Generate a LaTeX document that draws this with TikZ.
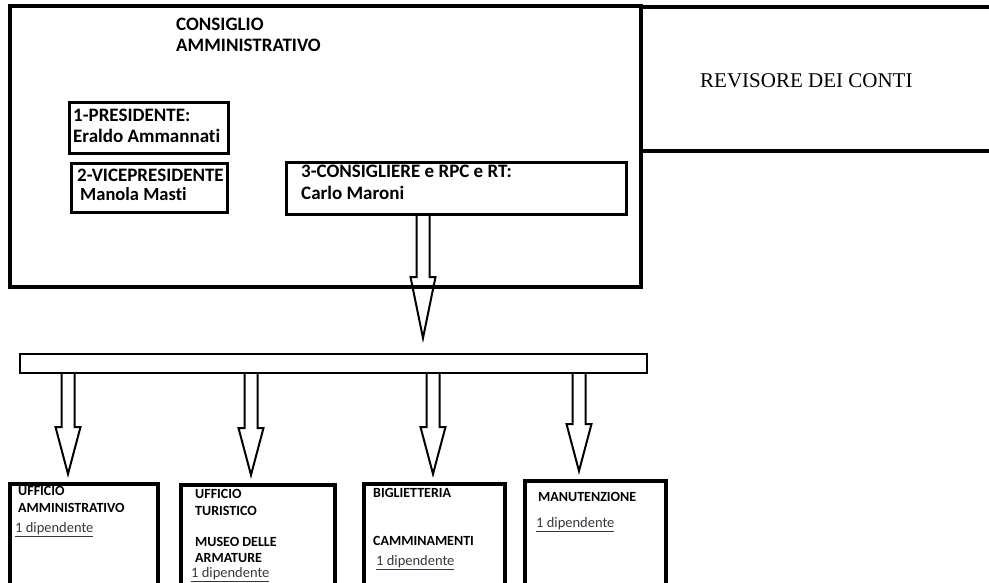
\documentclass[tikz,border=0pt]{standalone}
\usepackage{fontspec}
\setmainfont{Carlito}[Ligatures=NoCommon]
\newfontfamily\serifface{Liberation Serif}
\usepackage{tikz}
\usetikzlibrary{calc, positioning}
\definecolor{staffgray}{RGB}{55,55,65}
\tikzstyle{board} = [rectangle, line width=3.5pt, draw=black, anchor=north west, inner sep=0pt, outer sep=0pt]
\tikzstyle{member} = [rectangle, line width=3pt, draw=black, anchor=north west, inner sep=0pt, outer sep=0pt]
\tikzstyle{office} = [rectangle, line width=3.5pt, draw=black, anchor=north west, inner sep=0pt, outer sep=0pt]
\tikzstyle{busbar} = [rectangle, line width=2.5pt, draw=black, anchor=north west, inner sep=0pt, outer sep=0pt]
\tikzstyle{headline} = [anchor=base west, inner sep=0pt, font=\fontsize{19}{22}\selectfont\bfseries]
\tikzstyle{officeline} = [anchor=base west, inner sep=0pt, font=\fontsize{14}{16}\selectfont\bfseries]
\tikzstyle{staffline} = [anchor=base west, inner sep=0pt, text=staffgray, font=\fontsize{14.5}{16}\selectfont]
\tikzstyle{arrowline} = [line width=2pt, draw=black]
% hollow block arrow: start, end, gap before end, head length
\newcommand{\hollowarrow}[4]{%
	\draw [arrowline] let \p1=#1, \p2=#2 in
		(\x1-6.5pt,\y1) -- (\x1-6.5pt,\y2+#3+#4) -- (\x1-12.5pt,\y2+#3+#4)
		-- (\x1,\y2+#3) -- (\x1+12.5pt,\y2+#3+#4) -- (\x1+6.5pt,\y2+#3+#4)
		-- (\x1+6.5pt,\y1);}
\begin{document}
\begin{tikzpicture}[x=1pt, y=-1pt]
		\useasboundingbox (0,0) rectangle (989,582);

		\node (Board) [board, minimum width=631pt, minimum height=281pt] at (10,6) {};
		\node (Revisor) [board, minimum width=352pt, minimum height=144pt] at (641,7) {};
		\node (President) [member, minimum width=159pt, minimum height=51pt] at (69,102) {};
		\node (VicePresident) [member, minimum width=156pt, minimum height=49pt] at (71,163) {};
		\node (Councillor) [member, minimum width=340pt, minimum height=52pt] at (286,162) {};
		\node (Bar) [busbar, minimum width=627pt, minimum height=19pt] at (20,354) {};
		\node (Office01) [office, minimum width=148pt, minimum height=110pt] at (10,484) {};
		\node (Office02) [office, minimum width=154pt, minimum height=110pt] at (181,485) {};
		\node (Office03) [office, minimum width=141pt, minimum height=110pt] at (364,484) {};
		\node (Office04) [office, minimum width=141pt, minimum height=110pt] at (525,481) {};

		\node (BoardA) [headline] at (176,30) {CONSIGLIO};
		\node (BoardB) [headline] at (176,51) {AMMINISTRATIVO};
		\node (PresidentA) [headline] at (73,121) {1-PRESIDENTE:};
		\node (PresidentB) [headline] at (73,142) {Eraldo Ammannati};
		\node (VicePresidentA) [headline] at (77,181) {2-VICEPRESIDENTE};
		\node (VicePresidentB) [headline, font=\fontsize{18.5}{22}\selectfont\bfseries] at (80,200) {Manola Masti};
		\node (CouncillorA) [headline] at (301,177) {3-CONSIGLIERE e RPC e RT:};
		\node (CouncillorB) [headline] at (301,199) {Carlo Maroni};
		\node (RevisorA) [anchor=base west, inner sep=0pt, font=\serifface\fontsize{21}{24}\selectfont] at (700,87) {REVISORE DEI CONTI};

		\node (Office01A) [officeline] at (18,495) {UFFICIO};
		\node (Office01B) [officeline] at (18,512) {AMMINISTRATIVO};
		\node (Office01C) [staffline] at (15,532) {\underline{1 dipendente}};
		\node (Office02A) [officeline] at (195,498) {UFFICIO};
		\node (Office02B) [officeline] at (195,515) {TURISTICO};
		\node (Office02C) [officeline] at (195,546) {MUSEO DELLE};
		\node (Office02D) [officeline] at (195,562) {ARMATURE};
		\node (Office02E) [staffline] at (191,577) {\underline{1 dipendente}};
		\node (Office03A) [officeline] at (373,497) {BIGLIETTERIA};
		\node (Office03B) [officeline] at (373,545) {CAMMINAMENTI};
		\node (Office03C) [staffline] at (376,565) {\underline{1 dipendente}};
		\node (Office04A) [officeline] at (538,501) {MANUTENZIONE};
		\node (Office04B) [staffline] at (536,527) {\underline{1 dipendente}};

		\coordinate (TopX) at (423,0);
		\coordinate (X01) at (68,0);
		\coordinate (X02) at (251,0);
		\coordinate (X03) at (433,0);
		\coordinate (X04) at (579,0);

		\hollowarrow{(Councillor.south -| TopX)}{(Bar.north -| TopX)}{16pt}{61pt}
		\hollowarrow{(Bar.south -| X01)}{(Office01.north -| X01)}{10pt}{47pt}
		\hollowarrow{(Bar.south -| X02)}{(Office02.north -| X02)}{10pt}{47pt}
		\hollowarrow{(Bar.south -| X03)}{(Office03.north -| X03)}{10pt}{47pt}
		\hollowarrow{(Bar.south -| X04)}{(Office04.north -| X04)}{10pt}{47pt}
	\end{tikzpicture}
\end{document}
